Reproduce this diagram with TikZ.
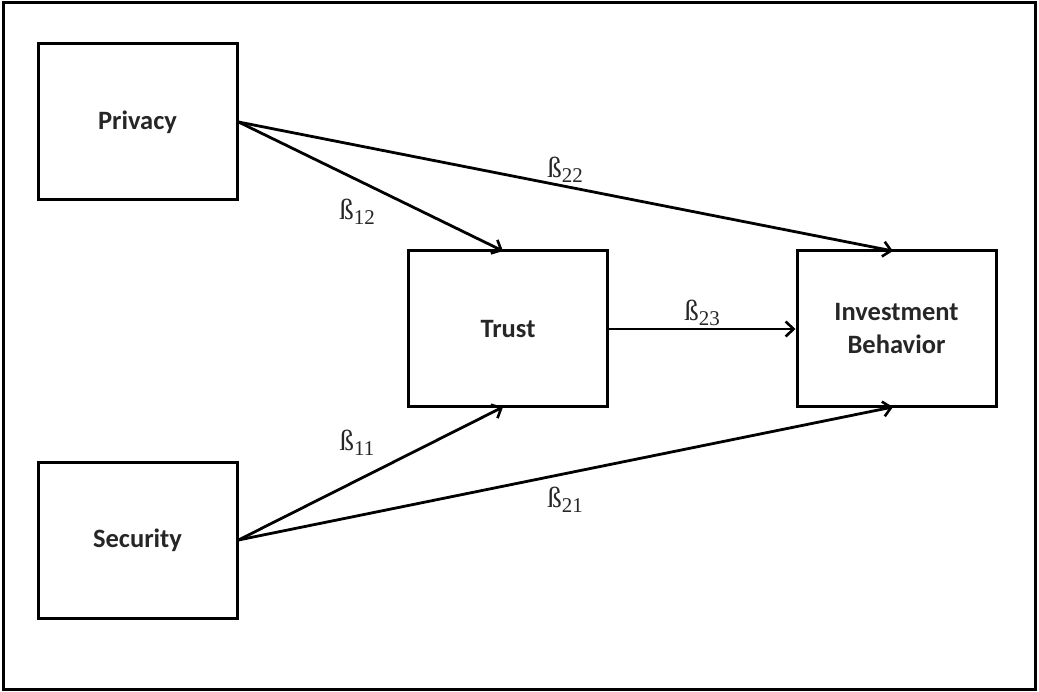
\documentclass[tikz,border=0pt]{standalone}
\usepackage{fontspec}
\setmainfont{Carlito}
\newfontfamily\lblfont{Liberation Serif}
\usetikzlibrary{arrows.meta}
\newcommand{\mybeta}[1]{{\lblfont\fontsize{29}{32}\selectfont ß\raisebox{-0.4ex}{\fontsize{21}{24}\selectfont #1}}}
\tikzset{
  box/.style={draw, line width=3pt, minimum width=199pt, minimum height=156pt, inner sep=0pt,
    font=\fontsize{26.5}{33}\selectfont\bfseries, text=black!85, align=center},
  conn/.style={line width=2.8pt, -{Straight Barb[length=8pt,width=15pt,line width=2.6pt]}},
  lbl/.style={inner sep=0pt, text=black!85}
}
\begin{document}
\begin{tikzpicture}[x=1pt,y=-1pt]
\useasboundingbox (0,0) rectangle (1039,692);
\draw[line width=3pt] (3,3) rectangle (1035,689);
\node[box] (priv) at (137.5,122) {Privacy};
\node[box] (sec) at (137.5,540) {Security};
\node[box] (trust) at (508,329) {Trust};
\node[box] (inv) at (896.5,329) {Investment\\Behavior};
\coordinate (tt) at (503,251);
\coordinate (tb) at (503,407);
\coordinate (it) at (893,251);
\coordinate (ib) at (893,407);
\draw[conn] (priv.east) -- (tt);
\draw[conn] (priv.east) -- (it);
\draw[conn] (sec.east) -- (tb);
\draw[conn] (sec.east) -- (ib);
\draw[conn] (trust.east) -- (inv.west);
\node[lbl] (b12) at (357,212) {\mybeta{12}};
\node[lbl] (b22) at (565,170) {\mybeta{22}};
\node[lbl] (b23) at (702,313) {\mybeta{23}};
\node[lbl] (b11) at (357,443) {\mybeta{11}};
\node[lbl] (b21) at (565,500) {\mybeta{21}};
\end{tikzpicture}
\end{document}
